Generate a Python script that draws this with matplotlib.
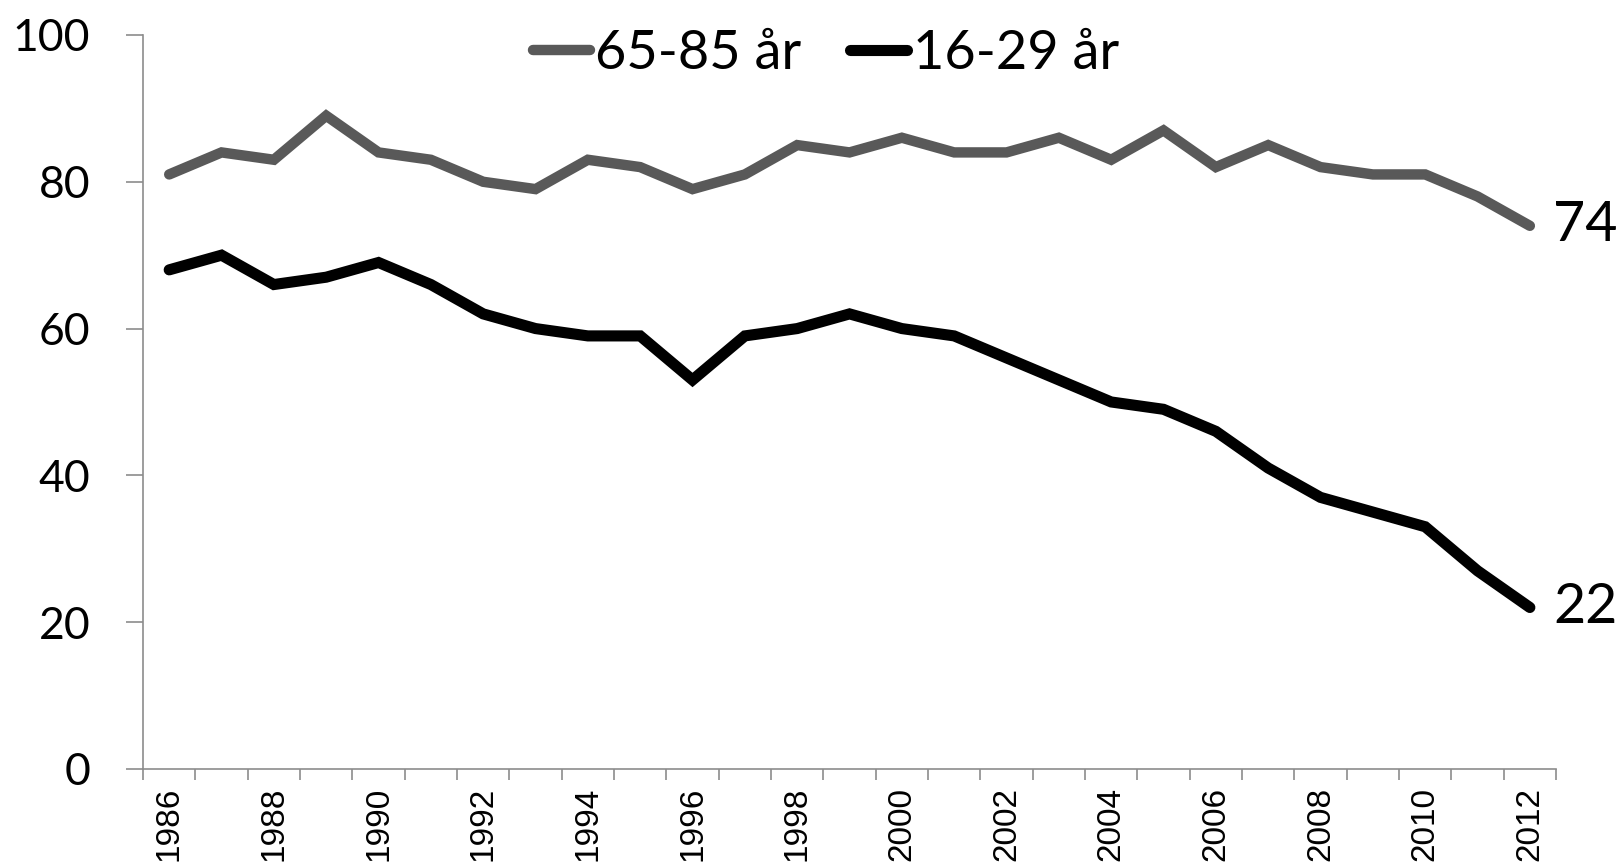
import numpy as np
import matplotlib
matplotlib.use("Agg")
import matplotlib.pyplot as plt

# data
years = list(range(1986, 2013))
old_label = "65-85 år"
young_label = "16-29 år"
old_values = [81, 84, 83, 89, 84, 83, 80, 79, 83, 82, 79, 81, 85, 84, 86,
              84, 84, 86, 83, 87, 82, 85, 82, 81, 81, 78, 74]
young_values = [68, 70, 66, 67, 69, 66, 62, 60, 59, 59, 53, 59, 60, 62, 60,
                59, 56, 53, 50, 49, 46, 41, 37, 35, 33, 27, 22]
y_ticks = [0, 20, 40, 60, 80, 100]

grey = "#595959"
axis_col = "#8c8c8c"

fig = plt.figure(figsize=(16.18, 8.68), dpi=100)
ax = fig.add_axes([0.0884, 0.1141, 0.8733, 0.8456])

x = np.arange(len(years))
ax.plot(x, old_values, color=grey, lw=7.5, solid_capstyle="round",
        solid_joinstyle="miter", label=old_label)
ax.plot(x, young_values, color="black", lw=8, solid_capstyle="round",
        solid_joinstyle="miter", label=young_label)

# end labels
ax.annotate(str(old_values[-1]), (x[-1], old_values[-1]), xytext=(17, 0),
            textcoords="offset points", va="center", ha="left",
            fontsize=40, family="Lato", annotation_clip=False)
ax.annotate(str(young_values[-1]), (x[-1], young_values[-1]), xytext=(17, 0),
            textcoords="offset points", va="center", ha="left",
            fontsize=40, family="Lato", annotation_clip=False)

ax.set_xlim(-0.5, len(years) - 0.5)
ax.set_ylim(0, 100)

# ticks on category boundaries, labels on even years
ax.set_xticks(np.arange(-0.5, len(years)), minor=False)
ax.set_xticklabels([])
ax.set_xticks([i for i, yr in enumerate(years) if yr % 2 == 0], minor=True)
ax.set_xticklabels([str(yr) for yr in years if yr % 2 == 0], minor=True,
                   rotation=90, family="Liberation Sans", fontsize=24,
                   va="top", ha="center")
ax.tick_params(axis="x", which="major", direction="out", length=8,
               width=1.2, color=axis_col)
ax.tick_params(axis="x", which="minor", length=0, pad=13)

ax.set_yticks(y_ticks)
ax.set_yticklabels([str(v) for v in y_ticks], family="Lato", fontsize=32)
ax.tick_params(axis="y", direction="out", length=12, width=1.2,
               color=axis_col, pad=26)

for s in ["top", "right"]:
    ax.spines[s].set_visible(False)
for s in ["left", "bottom"]:
    ax.spines[s].set_color(axis_col)
    ax.spines[s].set_linewidth(1.2)

leg = fig.legend(loc="center", bbox_to_anchor=(0.5105, 0.938), ncol=2,
                 frameon=False, prop={"family": "Lato", "size": 39},
                 handlelength=1.05, handletextpad=0.1, columnspacing=0.9,
                 borderaxespad=0, borderpad=0)
for line in leg.get_lines():
    line.set_solid_capstyle("round")

fig.savefig("out.png", dpi=100)
